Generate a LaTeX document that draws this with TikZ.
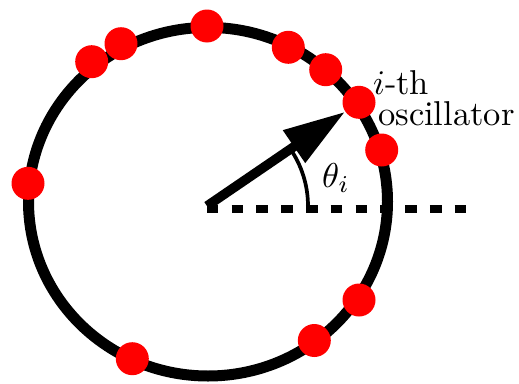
\documentclass[tikz,border=0pt]{standalone}
\usetikzlibrary{arrows.meta}
\pgfdeclarelayer{bg}
\pgfsetlayers{bg,main}
\newcommand{\bigtxt}[1]{\scalebox{3.45}{#1}}
\begin{document}
\begin{tikzpicture}[x=1pt,y=-1pt,
  dot/.style={circle,fill=red,draw=none,minimum size=33pt,inner sep=0pt},
  ring/.style={line width=11pt},
  vec/.style={line width=9.5pt,-{Triangle[length=62pt,width=37pt]}},
  axis/.style={line width=8.3pt,dash pattern=on 11.7pt off 13.1pt},
  anglearc/.style={line width=3.7pt},
  lbl/.style={font=\fontsize{10}{12}\selectfont,inner sep=0pt,anchor=base west}]
\useasboundingbox (0,0) rectangle (519,383);
% oscillators
\node[dot] (d1) at (207,26) {};
\node[dot] (d2) at (121,43.7) {};
\node[dot] (d3) at (91.7,61.7) {};
\node[dot] (d4) at (288.3,47.3) {};
\node[dot] (d5) at (325.7,69.7) {};
\node[dot] (osc) at (359,102.3) {};
\node[dot] (d7) at (381.7,150) {};
\node[dot] (d8) at (28,183.3) {};
\node[dot] (d9) at (359,300) {};
\node[dot] (d10) at (314.3,340.5) {};
\node[dot] (d11) at (132.3,358.7) {};
% centre and axis
\coordinate (c) at (207,206);
\coordinate (a0) at (206.7,209);
\coordinate (a1) at (467,209);
\coordinate (arcstart) at (308,206);
\begin{pgfonlayer}{bg}
\draw[ring] (208,201.7) ellipse [x radius=179.5, y radius=174.3];
\draw[axis] (a0) -- (a1);
\draw[anglearc] (arcstart) arc [start angle=0, end angle=-35, radius=101];
\draw[vec] (c) -- (osc);
\end{pgfonlayer}
% labels
\node[lbl] (ith) at (373,94) {\bigtxt{$i$-th}};
\node[lbl] (osclbl) at (378,125) {\bigtxt{oscillator}};
\node[lbl] (theta) at (322,187) {\bigtxt{$\theta_i$}};
\end{tikzpicture}
\end{document}
